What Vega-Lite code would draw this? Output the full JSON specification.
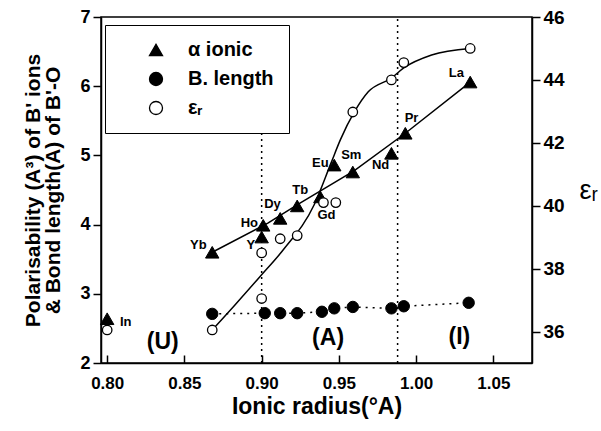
{
  "$schema": "https://vega.github.io/schema/vega-lite/v6.json",
  "width": 431,
  "height": 346,
  "autosize": {"type": "none"},
  "padding": {"left": 101, "top": 17, "right": 69, "bottom": 68},
  "background": "white",
  "config": {
    "view": {"stroke": "black", "strokeWidth": 1.5},
    "font": "Liberation Sans",
    "axis": {"grid": false, "labelColor": "black", "titleColor": "black", "labelFont": "Liberation Sans", "titleFont": "Liberation Sans", "labelFontWeight": "bold", "titleFontWeight": "bold", "labelOverlap": false, "labelFlush": false}
  },
  "datasets": {
    "points": [
      {"series": "α ionic", "el": "In", "x": 0.800, "y": 2.64},
      {"series": "α ionic", "el": "Yb", "x": 0.868, "y": 3.60},
      {"series": "α ionic", "el": "Y", "x": 0.900, "y": 3.82},
      {"series": "α ionic", "el": "Ho", "x": 0.901, "y": 3.99},
      {"series": "α ionic", "el": "Dy", "x": 0.912, "y": 4.09},
      {"series": "α ionic", "el": "Tb", "x": 0.923, "y": 4.27},
      {"series": "α ionic", "el": "Gd", "x": 0.938, "y": 4.40},
      {"series": "α ionic", "el": "Eu", "x": 0.947, "y": 4.86},
      {"series": "α ionic", "el": "Sm", "x": 0.959, "y": 4.76},
      {"series": "α ionic", "el": "Nd", "x": 0.984, "y": 5.03},
      {"series": "α ionic", "el": "Pr", "x": 0.993, "y": 5.32},
      {"series": "α ionic", "el": "La", "x": 1.035, "y": 6.06},
      {"series": "B. length", "el": "Yb", "x": 0.868, "y": 2.71},
      {"series": "B. length", "el": "Y", "x": 0.902, "y": 2.72},
      {"series": "B. length", "el": "Dy", "x": 0.912, "y": 2.72},
      {"series": "B. length", "el": "Tb", "x": 0.923, "y": 2.72},
      {"series": "B. length", "el": "Gd", "x": 0.939, "y": 2.74},
      {"series": "B. length", "el": "Eu", "x": 0.947, "y": 2.79},
      {"series": "B. length", "el": "Sm", "x": 0.959, "y": 2.81},
      {"series": "B. length", "el": "Nd", "x": 0.984, "y": 2.79},
      {"series": "B. length", "el": "Pr", "x": 0.992, "y": 2.82},
      {"series": "B. length", "el": "La", "x": 1.034, "y": 2.87}
    ],
    "eps": [
      {"series": "εᵣ", "x": 0.800, "y": 36.05},
      {"series": "εᵣ", "x": 0.868, "y": 36.05},
      {"series": "εᵣ", "x": 0.900, "y": 37.05},
      {"series": "εᵣ", "x": 0.900, "y": 38.5},
      {"series": "εᵣ", "x": 0.912, "y": 38.95},
      {"series": "εᵣ", "x": 0.923, "y": 39.05},
      {"series": "εᵣ", "x": 0.940, "y": 40.1},
      {"series": "εᵣ", "x": 0.948, "y": 40.1},
      {"series": "εᵣ", "x": 0.959, "y": 42.98},
      {"series": "εᵣ", "x": 0.984, "y": 44.0},
      {"series": "εᵣ", "x": 0.992, "y": 44.55},
      {"series": "εᵣ", "x": 1.035, "y": 45.0}
    ],
    "epscurve": [
      {"x": 0.868, "y": 36.05},
      {"x": 0.883, "y": 36.86},
      {"x": 0.899, "y": 37.75},
      {"x": 0.914, "y": 38.6},
      {"x": 0.934, "y": 40.03},
      {"x": 0.945, "y": 41.37},
      {"x": 0.951, "y": 42.1},
      {"x": 0.960, "y": 42.98},
      {"x": 0.969, "y": 43.62},
      {"x": 0.984, "y": 44.06},
      {"x": 0.992, "y": 44.38},
      {"x": 1.010, "y": 44.79},
      {"x": 1.035, "y": 45.0}
    ],
    "alphafit": [
      {"x": 0.868, "y": 3.60},
      {"x": 0.904, "y": 4.02},
      {"x": 0.924, "y": 4.30},
      {"x": 0.960, "y": 4.78},
      {"x": 0.993, "y": 5.32},
      {"x": 1.035, "y": 6.06}
    ],
    "vlines": [
      {"x": 0.900, "y1": 2, "y2": 5.34},
      {"x": 0.988, "y1": 2, "y2": 7}
    ],
    "labels": [
      {"t": "In", "x": 0.812, "y": 2.59},
      {"t": "Yb", "x": 0.859, "y": 3.71},
      {"t": "Y", "x": 0.893, "y": 3.71},
      {"t": "Ho", "x": 0.892, "y": 4.02},
      {"t": "Dy", "x": 0.907, "y": 4.30},
      {"t": "Tb", "x": 0.925, "y": 4.50},
      {"t": "Gd", "x": 0.942, "y": 4.14},
      {"t": "Eu", "x": 0.938, "y": 4.89},
      {"t": "Sm", "x": 0.958, "y": 5.01},
      {"t": "Nd", "x": 0.977, "y": 4.86},
      {"t": "Pr", "x": 0.997, "y": 5.54},
      {"t": "La", "x": 1.026, "y": 6.19}
    ],
    "regions": [
      {"t": "(U)", "x": 0.836, "y": 2.30},
      {"t": "(A)", "x": 0.943, "y": 2.36},
      {"t": "(I)", "x": 1.028, "y": 2.38}
    ]
  },
  "layer": [
    {
      "data": {"name": "vlines"},
      "mark": {"type": "rule", "strokeDash": [2, 4], "strokeWidth": 1.5, "color": "black"},
      "encoding": {
        "x": {"field": "x", "type": "quantitative", "scale": {"domain": [0.796, 1.075], "nice": false, "zero": false},
          "axis": {"orient": "bottom", "values": [0.8, 0.85, 0.9, 0.95, 1.0, 1.05], "format": ".2f", "tickColor": "black", "tickWidth": 1.5, "tickSize": -8, "domainColor": "black", "domainWidth": 1.5, "labelPadding": 20, "labelFontSize": 17, "title": "Ionic radius(°A)", "titleFontSize": 23, "titlePadding": 4}},
        "y": {"field": "y1", "type": "quantitative", "scale": {"domain": [2, 7], "nice": false, "zero": false}, "axis": null},
        "y2": {"field": "y2"}
      }
    },
    {
      "data": {"name": "alphafit"},
      "mark": {"type": "line", "color": "black", "strokeWidth": 1.5},
      "encoding": {
        "x": {"field": "x", "type": "quantitative", "scale": {"domain": [0.796, 1.075], "nice": false, "zero": false},
          "axis": {"orient": "bottom", "values": [0.8, 0.85, 0.9, 0.95, 1.0, 1.05], "format": ".2f", "tickColor": "black", "tickWidth": 1.5, "tickSize": -8, "domainColor": "black", "domainWidth": 1.5, "labelPadding": 20, "labelFontSize": 17, "title": "Ionic radius(°A)", "titleFontSize": 23, "titlePadding": 4}},
        "y": {"field": "y", "type": "quantitative", "scale": {"domain": [2, 7], "nice": false, "zero": false}, "axis": null}
      }
    },
    {
      "data": {"name": "points"},
      "transform": [{"filter": "datum.series == 'B. length'"}],
      "mark": {"type": "line", "color": "black", "strokeWidth": 1.5, "strokeDash": [2, 5]},
      "encoding": {
        "x": {"field": "x", "type": "quantitative", "scale": {"domain": [0.796, 1.075], "nice": false, "zero": false},
          "axis": {"orient": "bottom", "values": [0.8, 0.85, 0.9, 0.95, 1.0, 1.05], "format": ".2f", "tickColor": "black", "tickWidth": 1.5, "tickSize": -8, "domainColor": "black", "domainWidth": 1.5, "labelPadding": 20, "labelFontSize": 17, "title": "Ionic radius(°A)", "titleFontSize": 23, "titlePadding": 4}},
        "y": {"field": "y", "type": "quantitative", "scale": {"domain": [2, 7], "nice": false, "zero": false}, "axis": null}
      }
    },
    {
      "data": {"name": "points"},
      "transform": [{"filter": "datum.series == 'α ionic'"}],
      "mark": {"type": "point", "filled": true, "size": 180, "strokeWidth": 1, "opacity": 1},
      "encoding": {
        "x": {"field": "x", "type": "quantitative", "scale": {"domain": [0.796, 1.075], "nice": false, "zero": false},
          "axis": {"orient": "bottom", "values": [0.8, 0.85, 0.9, 0.95, 1.0, 1.05], "format": ".2f", "tickColor": "black", "tickWidth": 1.5, "tickSize": -8, "domainColor": "black", "domainWidth": 1.5, "labelPadding": 20, "labelFontSize": 17, "title": "Ionic radius(°A)", "titleFontSize": 23, "titlePadding": 4}},
        "y": {"field": "y", "type": "quantitative", "scale": {"domain": [2, 7], "nice": false, "zero": false},
          "axis": {"orient": "left", "values": [2, 3, 4, 5, 6, 7], "format": "d", "tickColor": "black", "tickWidth": 1.5, "tickSize": 8, "domainColor": "black", "domainWidth": 1.5,
            "labelPadding": 3, "labelFontSize": 18,
            "title": ["Polarisability (A³) of B' ions", "& Bond length(A) of B'-O"], "titleFontSize": 21, "titlePadding": 16, "titleLineHeight": 20}},
        "shape": {"field": "series", "type": "nominal", "scale": {"domain": ["α ionic", "B. length", "εᵣ"], "range": ["triangle-up", "circle", "circle"]},
          "legend": {"title": null, "orient": "none", "legendX": 4, "legendY": 8, "fillColor": "white", "strokeColor": "black", "padding": 15, "symbolOffset": 26, "labelOffset": 22, "rowPadding": 9, "labelFontSize": 20, "labelFont": "Liberation Sans", "labelFontWeight": "bold", "labelColor": "black", "symbolSize": 170, "symbolStrokeWidth": 1.3}},
        "fill": {"field": "series", "type": "nominal", "scale": {"domain": ["α ionic", "B. length", "εᵣ"], "range": ["black", "black", "white"]},
          "legend": {"title": null, "orient": "none", "legendX": 4, "legendY": 8, "fillColor": "white", "strokeColor": "black", "padding": 15, "symbolOffset": 26, "labelOffset": 22, "rowPadding": 9, "labelFontSize": 20, "labelFont": "Liberation Sans", "labelFontWeight": "bold", "labelColor": "black", "symbolSize": 170, "symbolStrokeWidth": 1.3}},
        "stroke": {"field": "series", "type": "nominal", "scale": {"domain": ["α ionic", "B. length", "εᵣ"], "range": ["black", "black", "black"]},
          "legend": {"title": null, "orient": "none", "legendX": 4, "legendY": 8, "fillColor": "white", "strokeColor": "black", "padding": 15, "symbolOffset": 26, "labelOffset": 22, "rowPadding": 9, "labelFontSize": 20, "labelFont": "Liberation Sans", "labelFontWeight": "bold", "labelColor": "black", "symbolSize": 170, "symbolStrokeWidth": 1.3}}
      }
    },
    {
      "data": {"name": "points"},
      "transform": [{"filter": "datum.series == 'B. length'"}],
      "mark": {"type": "point", "filled": true, "size": 130, "strokeWidth": 1, "opacity": 1},
      "encoding": {
        "x": {"field": "x", "type": "quantitative", "scale": {"domain": [0.796, 1.075], "nice": false, "zero": false},
          "axis": {"orient": "bottom", "values": [0.8, 0.85, 0.9, 0.95, 1.0, 1.05], "format": ".2f", "tickColor": "black", "tickWidth": 1.5, "tickSize": -8, "domainColor": "black", "domainWidth": 1.5, "labelPadding": 20, "labelFontSize": 17, "title": "Ionic radius(°A)", "titleFontSize": 23, "titlePadding": 4}},
        "y": {"field": "y", "type": "quantitative", "scale": {"domain": [2, 7], "nice": false, "zero": false}, "axis": null},
        "shape": {"field": "series", "type": "nominal", "scale": {"domain": ["α ionic", "B. length", "εᵣ"], "range": ["triangle-up", "circle", "circle"]}},
        "fill": {"field": "series", "type": "nominal", "scale": {"domain": ["α ionic", "B. length", "εᵣ"], "range": ["black", "black", "white"]}},
        "stroke": {"field": "series", "type": "nominal", "scale": {"domain": ["α ionic", "B. length", "εᵣ"], "range": ["black", "black", "black"]}}
      }
    },
    {
      "data": {"name": "labels"},
      "mark": {"type": "text", "font": "Liberation Sans", "fontWeight": "bold", "fontSize": 13, "align": "center", "baseline": "middle", "color": "black"},
      "encoding": {
        "x": {"field": "x", "type": "quantitative", "scale": {"domain": [0.796, 1.075], "nice": false, "zero": false},
          "axis": {"orient": "bottom", "values": [0.8, 0.85, 0.9, 0.95, 1.0, 1.05], "format": ".2f", "tickColor": "black", "tickWidth": 1.5, "tickSize": -8, "domainColor": "black", "domainWidth": 1.5, "labelPadding": 20, "labelFontSize": 17, "title": "Ionic radius(°A)", "titleFontSize": 23, "titlePadding": 4}},
        "y": {"field": "y", "type": "quantitative", "scale": {"domain": [2, 7], "nice": false, "zero": false}, "axis": null},
        "text": {"field": "t"}
      }
    },
    {
      "data": {"name": "regions"},
      "mark": {"type": "text", "font": "Liberation Sans", "fontWeight": "bold", "fontSize": 23, "align": "center", "baseline": "middle", "color": "black"},
      "encoding": {
        "x": {"field": "x", "type": "quantitative", "scale": {"domain": [0.796, 1.075], "nice": false, "zero": false},
          "axis": {"orient": "bottom", "values": [0.8, 0.85, 0.9, 0.95, 1.0, 1.05], "format": ".2f", "tickColor": "black", "tickWidth": 1.5, "tickSize": -8, "domainColor": "black", "domainWidth": 1.5, "labelPadding": 20, "labelFontSize": 17, "title": "Ionic radius(°A)", "titleFontSize": 23, "titlePadding": 4}},
        "y": {"field": "y", "type": "quantitative", "scale": {"domain": [2, 7], "nice": false, "zero": false}, "axis": null},
        "text": {"field": "t"}
      }
    },
    {
      "data": {"name": "epscurve"},
      "mark": {"type": "line", "color": "black", "strokeWidth": 1.5, "interpolate": "monotone"},
      "encoding": {
        "x": {"field": "x", "type": "quantitative", "scale": {"domain": [0.796, 1.075], "nice": false, "zero": false},
          "axis": {"orient": "bottom", "values": [0.8, 0.85, 0.9, 0.95, 1.0, 1.05], "format": ".2f", "tickColor": "black", "tickWidth": 1.5, "tickSize": -8, "domainColor": "black", "domainWidth": 1.5, "labelPadding": 20, "labelFontSize": 17, "title": "Ionic radius(°A)", "titleFontSize": 23, "titlePadding": 4}},
        "y": {"field": "y", "type": "quantitative", "scale": {"domain": [35, 46], "nice": false, "zero": false}, "axis": null}
      }
    },
    {
      "data": {"name": "eps"},
      "mark": {"type": "point", "filled": true, "size": 90, "strokeWidth": 1.3, "opacity": 1},
      "encoding": {
        "x": {"field": "x", "type": "quantitative", "scale": {"domain": [0.796, 1.075], "nice": false, "zero": false},
          "axis": {"orient": "bottom", "values": [0.8, 0.85, 0.9, 0.95, 1.0, 1.05], "format": ".2f", "tickColor": "black", "tickWidth": 1.5, "tickSize": -8, "domainColor": "black", "domainWidth": 1.5, "labelPadding": 20, "labelFontSize": 17, "title": "Ionic radius(°A)", "titleFontSize": 23, "titlePadding": 4}},
        "y": {"field": "y", "type": "quantitative", "scale": {"domain": [35, 46], "nice": false, "zero": false},
          "axis": {"orient": "right", "values": [36, 38, 40, 42, 44, 46], "format": "d", "tickColor": "black", "tickWidth": 1.5, "tickSize": 8, "domainColor": "black", "domainWidth": 1.5,
            "labelPadding": 3, "labelFontSize": 19,
            "title": "εᵣ", "titleAngle": 0, "titleFontSize": 27, "titleFontWeight": "normal", "titlePadding": 24, "titleBaseline": "middle"}},
        "shape": {"field": "series", "type": "nominal", "scale": {"domain": ["α ionic", "B. length", "εᵣ"], "range": ["triangle-up", "circle", "circle"]}},
        "fill": {"field": "series", "type": "nominal", "scale": {"domain": ["α ionic", "B. length", "εᵣ"], "range": ["black", "black", "white"]}},
        "stroke": {"field": "series", "type": "nominal", "scale": {"domain": ["α ionic", "B. length", "εᵣ"], "range": ["black", "black", "black"]}}
      }
    }
  ],
  "resolve": {"scale": {"y": "independent"}}
}
